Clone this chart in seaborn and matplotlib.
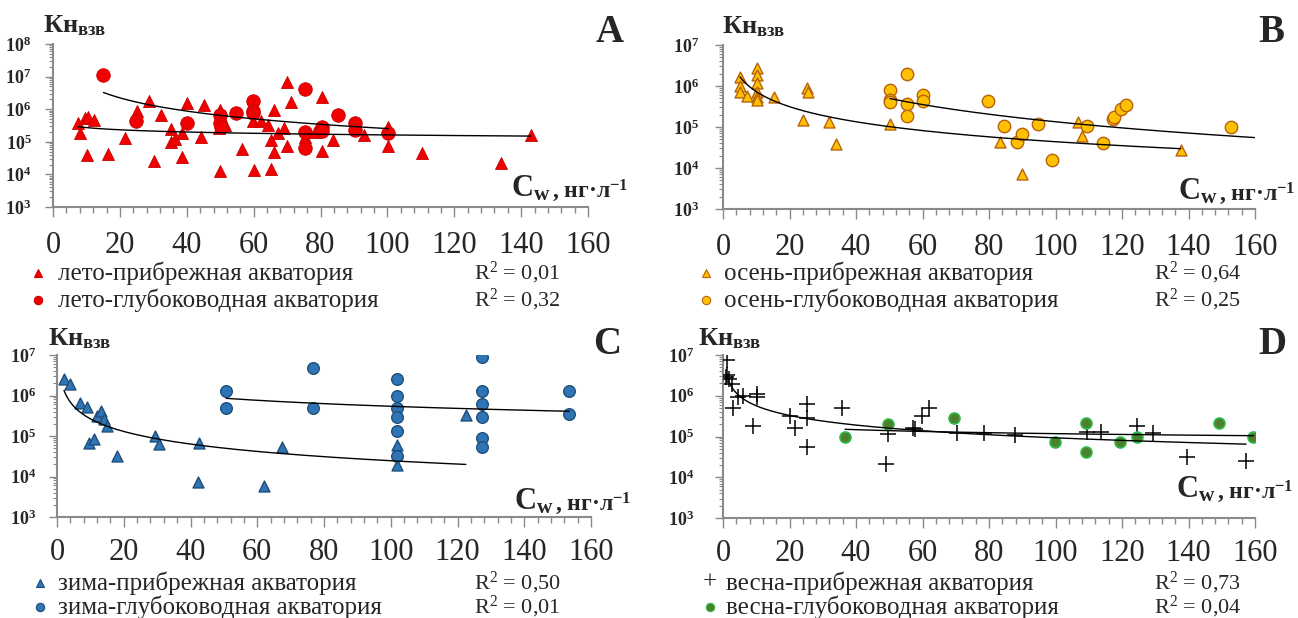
import numpy as np
import seaborn as sns
import matplotlib.pyplot as plt
from matplotlib.lines import Line2D
from matplotlib.ticker import MultipleLocator, LogLocator, FuncFormatter, NullFormatter

# =========================== DATA ===========================
# A - summer (лето)
summer_coast_x = [7.4, 8.1, 9.6, 10.4, 12.4, 10.3, 16.4, 21.5, 25.0, 28.7, 30.2, 32.3, 35.2, 35.2, 36.5,
                  38.5, 38.5, 40.2, 44.3, 45.2, 49.9, 49.9, 49.5, 51.5, 56.4, 59.9, 60.1, 62.2, 64.2, 65.1,
                  65.1, 66.2, 66.2, 67.2, 69.2, 69.9, 70.1, 71.2, 75.4, 78.3, 80.3, 80.3, 83.8, 93.1, 100.3,
                  100.3, 110.3, 133.9, 142.9]
summer_coast_y = [3.9e5, 1.8e5, 5.2e5, 5.8e5, 4.7e5, 4.0e4, 4.2e4, 1.35e5, 9.0e5, 1.8e6, 2.6e4, 6.5e5, 2.4e5,
                  9.6e4, 1.2e5, 1.9e5, 3.5e4, 1.5e6, 1.45e5, 1.35e6, 9.5e5, 1.3e4, 2.6e5, 3.3e5, 6.0e4, 4.2e5,
                  1.35e4, 4.2e5, 3.3e5, 1.45e4, 1.15e5, 9.5e5, 5.0e4, 1.8e5, 2.6e5, 6.9e6, 7.6e4, 1.7e6,
                  1.45e5, 2.0e5, 2.4e6, 5.4e4, 1.15e5, 1.6e5, 2.9e5, 7.4e4, 4.6e4, 2.3e4, 1.6e5]
summer_deep_x = [15.1, 24.8, 40.0, 49.9, 49.9, 50.3, 54.7, 59.9, 59.9, 59.9, 75.4, 75.4, 75.4, 80.3, 80.3,
                 85.3, 90.3, 90.3, 100.3]
summer_deep_y = [1.1e7, 4.4e5, 3.7e5, 6.6e5, 3.7e5, 2.8e5, 7.4e5, 1.8e6, 9.0e5, 7.5e5, 4.2e6, 2.0e5, 6.3e4,
                 2.9e5, 2.2e5, 6.6e5, 3.9e5, 2.3e5, 1.8e5]

# B - autumn (осень)
autumn_coast_x = [5.1, 5.1, 5.1, 7.3, 10.1, 10.1, 10.1, 10.1, 10.1, 10.1, 15.3, 25.2, 25.5, 24.0, 31.9, 34.0,
                  50.2, 83.3, 89.8, 106.9, 107.9, 137.7]
autumn_coast_y = [1.7e6, 1.0e6, 7.2e5, 5.7e5, 2.7e6, 1.85e6, 1.2e6, 7.2e5, 5.5e5, 4.6e5, 5.5e5, 8.7e5, 7.0e5,
                  1.5e5, 1.35e5, 3.9e4, 1.18e5, 4.4e4, 7.0e3, 1.35e5, 6.0e4, 2.7e4]
autumn_deep_x = [50.2, 50.2, 50.2, 55.2, 55.2, 55.2, 60.2, 60.2, 79.6, 84.6, 88.3, 90.0, 94.8, 98.9, 109.6,
                 114.2, 117.2, 117.7, 119.7, 121.1, 152.7]
autumn_deep_y = [8.0e5, 4.6e5, 4.0e5, 2.0e6, 3.6e5, 1.9e5, 6.0e5, 4.3e5, 4.3e5, 1.07e5, 4.4e4, 6.6e4, 1.17e5,
                 1.55e4, 1.07e5, 4.0e4, 1.55e5, 1.8e5, 2.7e5, 3.5e5, 9.8e4]

# C - winter (зима)
winter_coast_x = [2.1, 3.9, 6.9, 9.1, 12.0, 13.1, 14.1, 15.0, 9.7, 11.2, 18.0, 29.3, 30.6, 42.3, 42.6, 62.0,
                  67.5, 101.9, 101.9, 122.5]
winter_coast_y = [2.6e6, 1.9e6, 6.5e5, 5.1e5, 3.1e5, 4.2e5, 2.6e5, 1.77e5, 6.6e4, 8.3e4, 3.2e4, 1.0e5, 6.3e4,
                  7.4e3, 6.6e4, 5.9e3, 5.3e4, 6.0e4, 1.9e4, 3.3e5]
winter_deep_x = [50.7, 50.7, 76.6, 76.6, 101.9, 101.9, 101.9, 101.9, 101.9, 101.9, 127.3, 127.3, 127.3, 127.3,
                 127.3, 127.3, 153.5, 153.5]
winter_deep_y = [1.3e6, 5.0e5, 4.7e6, 5.0e5, 2.6e6, 1.0e6, 5.0e5, 3.0e5, 1.3e5, 3.3e4, 9.1e6, 1.3e6, 6.0e5,
                 3.0e5, 8.7e4, 5.3e4, 1.3e6, 3.5e5]

# D - spring (весна)
spring_coast_x = [1.3, 1.3, 1.0, 1.8, 2.6, 3.1, 4.6, 6.1, 10.1, 10.1, 9.1, 20.2, 21.7, 25.2, 25.2, 25.2, 35.9,
                  49.0, 49.7, 57.1, 57.7, 59.8, 62.1, 70.3, 78.5, 87.8, 109.4, 113.6, 124.4, 129.2, 139.4, 157.3]
spring_coast_y = [7.6e6, 3.3e6, 2.9e6, 2.6e6, 1.9e6, 5.0e5, 9.2e5, 9.7e5, 1.1e6, 9.2e5, 1.8e5, 3.1e5, 1.6e5,
                  6.3e5, 2.8e5, 5.4e4, 4.9e5, 2.1e4, 1.15e5, 1.6e5, 1.5e5, 3.2e5, 5.0e5, 1.2e5, 1.2e5, 1.1e5,
                  1.3e5, 1.3e5, 1.8e5, 1.2e5, 3.2e4, 2.5e4]
spring_deep_x = [36.7, 49.5, 69.6, 99.8, 109.2, 109.2, 119.4, 124.4, 149.3, 159.5]
spring_deep_y = [9.8e4, 2.0e5, 2.9e5, 7.2e4, 2.2e5, 4.1e4, 7.4e4, 1.0e5, 2.2e5, 9.6e4]

x_ticks = [0, 20, 40, 60, 80, 100, 120, 140, 160]
coast_labels = ["лето-прибрежная акватория", "осень-прибрежная акватория",
                "зима-прибрежная акватория", "весна-прибрежная акватория"]
deep_labels = ["лето-глубоководная акватория", "осень-глубоководная акватория",
               "зима-глубоководная акватория", "весна-глубоководная акватория"]
r2_coast = ["0,01", "0,64", "0,50", "0,73"]
r2_deep = ["0,32", "0,25", "0,01", "0,04"]
panel_letters = ["A", "B", "C", "D"]

# =========================== STYLE ===========================
W, H = 1298, 618
sns.set_theme(style="white")
plt.rcParams['font.family'] = ['Liberation Serif', 'DejaVu Serif']
plt.rcParams['mathtext.fontset'] = 'custom'
plt.rcParams['mathtext.rm'] = 'Liberation Serif'
plt.rcParams['mathtext.it'] = 'Liberation Serif:italic'
plt.rcParams['mathtext.bf'] = 'Liberation Serif:bold'
AXIS_GREY = '#8a8a8a'

styles = {
    'A': (dict(marker='^', color='#f00000', edgecolor='#c80000', s=75, linewidth=0.6),
          dict(marker='o', color='#f00000', edgecolor='#c80000', s=95, linewidth=0.6)),
    'B': (dict(marker='^', color='#ffc000', edgecolor='#b8620c', s=62, linewidth=1.0),
          dict(marker='o', color='#ffc000', edgecolor='#b8620c', s=80, linewidth=1.0)),
    'C': (dict(marker='^', color='#2f75b5', edgecolor='#1f4e79', s=62, linewidth=1.0),
          dict(marker='o', color='#2f75b5', edgecolor='#1f4e79', s=70, linewidth=1.0)),
    'D': (dict(marker='+', color='black', s=120, linewidth=1.1),
          dict(marker='o', color='#4e7f2c', edgecolor='#2dbb4a', s=62, linewidth=1.2)),
}

# pixel boxes (left, top, right, bottom) and decorations
layout = {
    'A': dict(box=(53, 44, 588, 207), ymax=1e8, ypad=9.5, xpad=10, kn=(43, 32), letter=(610, 33),
              cw=(511, 197), leg=(38, 58, 474, 273, 300)),
    'B': dict(box=(723, 45, 1255, 209), ymax=1e7, ypad=11.5, xpad=10, kn=(722, 33), letter=(1271, 33),
              cw=(1178, 200), leg=(706, 724, 1154, 273, 300)),
    'C': dict(box=(57, 355, 591, 517), ymax=1e7, ypad=9, xpad=8, kn=(48, 345), letter=(607, 345),
              cw=(514, 510), leg=(40, 58, 474, 583, 607)),
    'D': dict(box=(723, 355, 1255, 518), ymax=1e7, ypad=15, xpad=8, kn=(698, 345), letter=(1272, 345),
              cw=(1176, 498), leg=(710, 726, 1154, 583, 607)),
}

series = {
    'A': ((summer_coast_x, summer_coast_y, None), (summer_deep_x, summer_deep_y, None)),
    'B': ((autumn_coast_x, autumn_coast_y, None), (autumn_deep_x, autumn_deep_y, 160)),
    'C': ((winter_coast_x, winter_coast_y, None), (winter_deep_x, winter_deep_y, None)),
    'D': ((spring_coast_x, spring_coast_y, None), (spring_deep_x, spring_deep_y, None)),
}


def fx(x):
    return x / W


def fy(y):
    return 1 - y / H


def power_trend(x, y, x_end=None):
    # Excel-style power trendline: log10(y) = a + b*log10(x)
    b, a = np.polyfit(np.log10(x), np.log10(y), 1)
    xx = np.linspace(min(x), x_end if x_end else max(x), 200)
    return xx, 10 ** (a + b * np.log10(xx))


fig = plt.figure(figsize=(W / 100, H / 100), dpi=100)
fig.patch.set_facecolor('white')
renderer = fig.canvas.get_renderer()

for i, key in enumerate(panel_letters):
    lay = layout[key]
    l, t, r, b = lay['box']
    ax = fig.add_axes([fx(l), fy(b), (r - l) / W, (b - t) / H])
    ax.set_facecolor('white')

    for (xs, ys, x_end), st in zip(series[key], styles[key]):
        sns.scatterplot(x=xs, y=ys, ax=ax, zorder=3, legend=False, **st)
        xx, yy = power_trend(xs, ys, x_end)
        sns.lineplot(x=xx, y=yy, ax=ax, color='black', linewidth=1.0, sort=False,
                     estimator=None, zorder=4, legend=False)

    ax.set_yscale('log')
    ax.set_ylim(1e3, lay['ymax'])
    ax.set_xlim(0, 160)
    ax.set_xlabel('')
    ax.set_ylabel('')

    for side in ['top', 'right']:
        ax.spines[side].set_visible(False)
    for side in ['left', 'bottom']:
        ax.spines[side].set_color(AXIS_GREY)
        ax.spines[side].set_linewidth(1.5)

    ax.xaxis.set_minor_locator(MultipleLocator(4))
    ax.set_xticks(x_ticks)
    ax.set_xticklabels([str(v) for v in x_ticks])
    ax.yaxis.set_major_locator(LogLocator(base=10, numticks=10))
    ax.yaxis.set_minor_locator(LogLocator(base=10, subs=np.arange(2, 10), numticks=20))
    ax.yaxis.set_major_formatter(FuncFormatter(lambda v, p: r'$\mathbf{10^{%d}}$' % round(np.log10(v))))
    ax.yaxis.set_minor_formatter(NullFormatter())
    ax.tick_params(axis='x', which='major', direction='out', length=7, width=1, color=AXIS_GREY,
                   labelsize=22, pad=lay['xpad'], bottom=True)
    ax.tick_params(axis='x', which='minor', direction='out', length=4, width=1, color=AXIS_GREY, bottom=True)
    ax.tick_params(axis='y', which='major', direction='out', length=6, width=1, color=AXIS_GREY,
                   labelsize=13, pad=lay['ypad'], left=True)
    ax.tick_params(axis='y', which='minor', direction='out', length=3, width=0.8, color=AXIS_GREY, left=True)
    ax.grid(False)

    # axis titles and panel letter
    fig.text(fx(lay['kn'][0]), fy(lay['kn'][1]), r'Кн$_{\mathbf{взв}}$', fontsize=19,
             fontweight='bold', ha='left', va='baseline')
    fig.text(fx(lay['letter'][0]), fy(lay['letter'][1]), key, fontsize=28, fontweight='bold',
             ha='center', va='center')
    cw = fig.text(fx(lay['cw'][0]), fy(lay['cw'][1]), r'$\mathbf{C_{w}}$', fontsize=22,
                  ha='left', va='baseline')
    cw_right = cw.get_window_extent(renderer).x1
    fig.text(fx(cw_right + 1), fy(lay['cw'][1]), r', нг·л$^{\mathbf{-1}}$', fontsize=17,
             fontweight='bold', ha='left', va='baseline')

    # legend rows (marker, label, R²)
    xm, xt, xr, y1, y2 = lay['leg']
    coast_st, deep_st = styles[key]
    if coast_st['marker'] == '+':
        fig.text(fx(xm), fy(y1), '+', fontsize=18, ha='center', va='center')
    else:
        fig.add_artist(Line2D([fx(xm)], [fy(y1)], transform=fig.transFigure, marker='^', markersize=6,
                              markerfacecolor=coast_st['color'], markeredgecolor=coast_st['edgecolor'],
                              markeredgewidth=0.8, linestyle='none'))
    fig.add_artist(Line2D([fx(xm)], [fy(y2)], transform=fig.transFigure, marker='o', markersize=6,
                          markerfacecolor=deep_st['color'], markeredgecolor=deep_st['edgecolor'],
                          markeredgewidth=0.8, linestyle='none'))
    fig.text(fx(xt), fy(y1), coast_labels[i], fontsize=18, ha='left', va='center')
    fig.text(fx(xt), fy(y2), deep_labels[i], fontsize=18, ha='left', va='center')
    fig.text(fx(xr), fy(y1 + 6), r'R$^{2}$ = ' + r2_coast[i], fontsize=16, ha='left', va='baseline')
    fig.text(fx(xr), fy(y2 + 6), r'R$^{2}$ = ' + r2_deep[i], fontsize=16, ha='left', va='baseline')

fig.savefig('out.png', dpi=100, facecolor='white')
